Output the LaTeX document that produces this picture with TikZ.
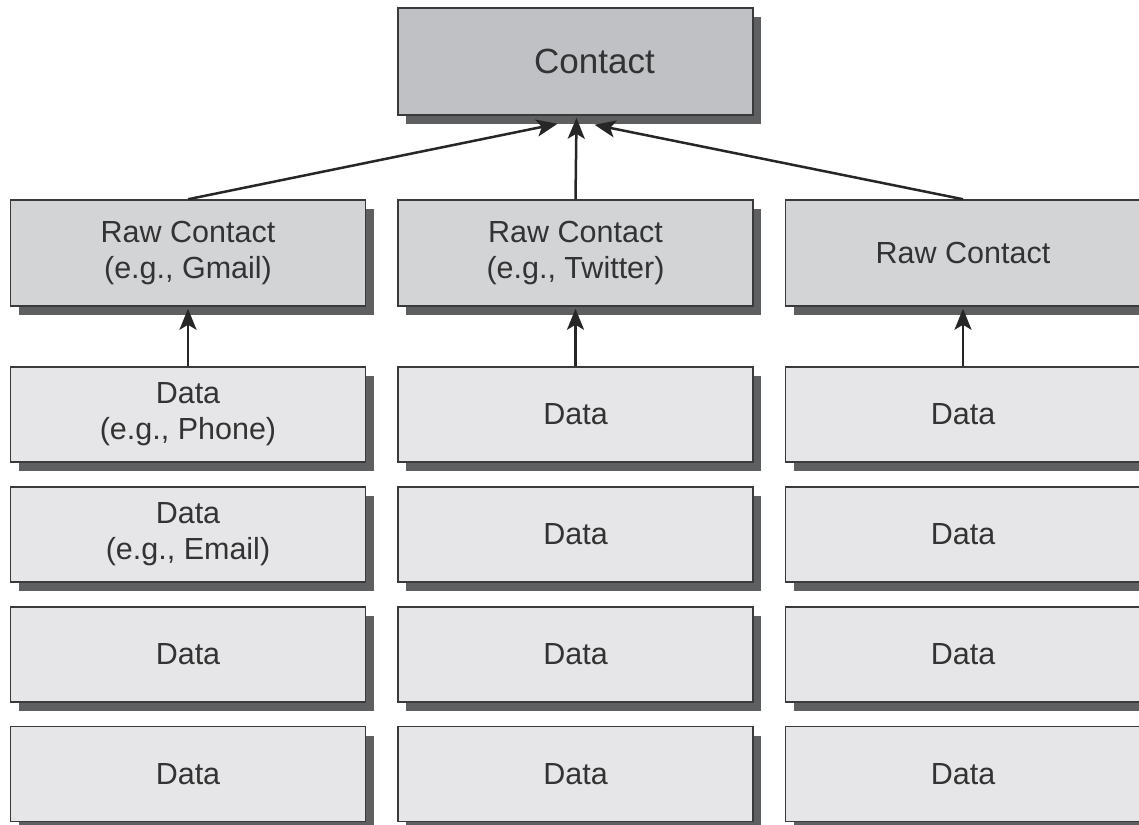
\documentclass[tikz,border=0pt]{standalone}
\usepackage{fontspec}
\setmainfont{Liberation Sans}
\usetikzlibrary{shadows,arrows.meta,calc}
\definecolor{topfill}{HTML}{C0C1C4}
\definecolor{rawfill}{HTML}{D3D4D6}
\definecolor{datafill}{HTML}{E6E6E8}
\definecolor{shadowc}{HTML}{5E5F61}
\definecolor{edgec}{HTML}{3A3A3C}
\definecolor{textc}{HTML}{333333}
\begin{document}
\begin{tikzpicture}[x=1pt,y=-1pt,
  box/.style={draw=edgec, line width=1.5pt, rectangle, minimum width=355pt,
    text=textc, align=center, inner sep=0pt,
    font=\fontsize{30.5}{36}\selectfont,
    drop shadow={shadow xshift=8pt, shadow yshift=-9pt, opacity=1, fill=shadowc}},
  topbox/.style={box, fill=topfill, minimum height=107pt, font=\fontsize{35}{40}\selectfont},
  rawbox/.style={box, fill=rawfill, minimum height=106pt},
  databox/.style={box, fill=datafill, minimum height=95pt},
  arr/.style={draw=black!85, line width=2.5pt, -{Stealth[length=21pt,width=17pt,inset=5pt]}}]
\fill[white] (0,0) rectangle (1139,824);
\useasboundingbox (0,0) rectangle (1139,824);

\node[topbox] (contact) at (575.5,61.5) {\hspace*{38pt}Contact};

\node[rawbox] (raw1) at (188,253) {Raw Contact\\(e.g., Gmail)};
\node[rawbox] (raw2) at (575.5,253) {Raw Contact\\(e.g., Twitter)};
\node[rawbox] (raw3) at (963,253) {Raw Contact};

\node[databox] (d11) at (188,414.5) {Data\\(e.g., Phone)};
\node[databox] (d12) at (188,534.5) {Data\\(e.g., Email)};
\node[databox] (d13) at (188,654.5) {Data};
\node[databox] (d14) at (188,774) {Data};

\node[databox] (d21) at (575.5,414.5) {Data};
\node[databox] (d22) at (575.5,534.5) {Data};
\node[databox] (d23) at (575.5,654.5) {Data};
\node[databox] (d24) at (575.5,774) {Data};

\node[databox] (d31) at (963,414.5) {Data};
\node[databox] (d32) at (963,534.5) {Data};
\node[databox] (d33) at (963,654.5) {Data};
\node[databox] (d34) at (963,774) {Data};

\coordinate (tl) at ($(contact.south)+(-18,8)$);
\coordinate (tm) at ($(contact.south)+(1,2)$);
\coordinate (tr) at ($(contact.south)+(19,9)$);

\draw[arr] (raw1.north) -- (tl);
\draw[arr] (raw2.north) -- (tm);
\draw[arr] (raw3.north) -- (tr);

\draw[arr] (d11.north) -- ($(raw1.south)+(0,2)$);
\draw[arr] (d21.north) -- ($(raw2.south)+(0,2)$);
\draw[arr] (d31.north) -- ($(raw3.south)+(0,2)$);
\end{tikzpicture}
\end{document}
